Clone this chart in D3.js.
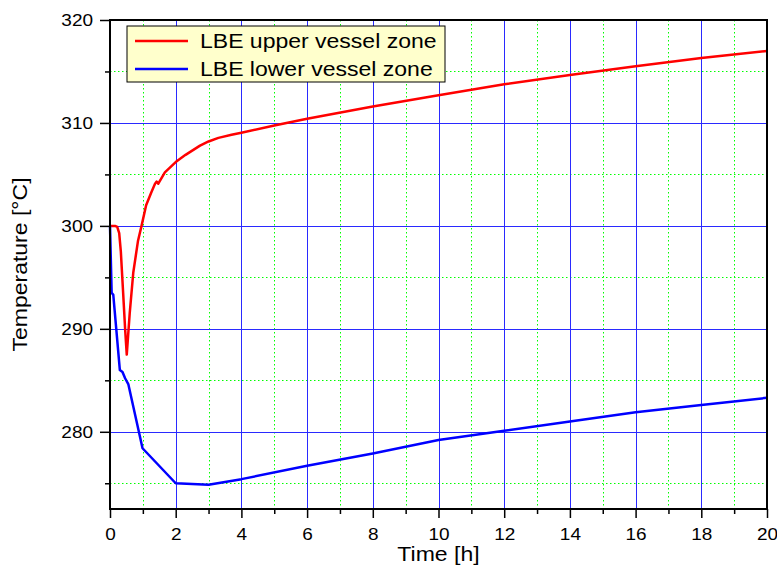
<!DOCTYPE html>
<html>
<head>
<meta charset="utf-8">
<script src="https://cdn.jsdelivr.net/npm/d3@7"></script>
<style>
    body { margin: 0; background: #fff; }
    text { font-family: "Liberation Sans", Arial, Helvetica, sans-serif; fill: #000; }
</style>
</head>
<body>
<div id="chart"></div>
<script>
// Data (time in hours, temperature in degrees C)
const upperTime = [0, 0.15, 0.22, 0.28, 0.33, 0.4, 0.46, 0.51, 0.6, 0.71, 0.85, 0.96, 1.1, 1.25, 1.37, 1.42, 1.47, 1.67, 2.0, 2.3, 2.74, 3.0, 3.3, 3.7, 4, 5, 6, 8, 10, 12, 14, 16, 18, 20];
const upperTemp = [300, 300, 299.9, 299.3, 297.5, 293.5, 290, 287.5, 291.5, 295.5, 298.5, 300, 302, 303.2, 304.1, 304.3, 304.1, 305.2, 306.2, 306.9, 307.8, 308.2, 308.55, 308.85, 309.05, 309.75, 310.4, 311.6, 312.7, 313.75, 314.65, 315.5, 316.3, 317.0];

const lowerTime = [0, 0.05, 0.1, 0.3, 0.38, 0.46, 0.56, 0.99, 2.0, 3.0, 4.0, 6.0, 8.0, 10.0, 12.0, 14.0, 16.0, 18.0, 20.0];
const lowerTemp = [300, 293.5, 293.3, 286.0, 285.8, 285.2, 284.6, 278.4, 275.0, 274.85, 275.4, 276.7, 277.9, 279.2, 280.1, 281.0, 281.9, 282.6, 283.3];

const seriesNames = ["LBE upper vessel zone", "LBE lower vessel zone"];
const seriesColors = ["#ff0000", "#0000ff"];

const xMajorTicks = [0, 2, 4, 6, 8, 10, 12, 14, 16, 18, 20];
const xMinorTicks = [1, 3, 5, 7, 9, 11, 13, 15, 17, 19];
const yMajorTicks = [280, 290, 300, 310, 320];
const yMinorTicks = [275, 285, 295, 305, 315];

const width = 777;
const height = 569;
const margin = { top: 20, right: 10, bottom: 60, left: 110 };
const stretch = 1.15; // the reference's text is a little wider than Arial

const svg = d3.select("#chart")
    .append("svg")
    .attr("width", width)
    .attr("height", height);

// Scales
const x = d3.scaleLinear()
    .domain([0, 20])
    .range([margin.left, width - margin.right]);

const y = d3.scaleLinear()
    .domain([272.5, 320])
    .range([height - margin.bottom, margin.top]);

// Grid: minor green dotted, major blue solid
const grid = svg.append("g");

grid.selectAll(".vminor")
    .data(xMinorTicks)
    .enter()
    .append("line")
    .attr("x1", d => Math.round(x(d)) + 0.5)
    .attr("x2", d => Math.round(x(d)) + 0.5)
    .attr("y1", y.range()[1])
    .attr("y2", y.range()[0])
    .attr("stroke", "#00ff00")
    .attr("stroke-dasharray", "1.5,2.5");

grid.selectAll(".hminor")
    .data(yMinorTicks)
    .enter()
    .append("line")
    .attr("x1", x.range()[0])
    .attr("x2", x.range()[1])
    .attr("y1", d => Math.round(y(d)) + 0.5)
    .attr("y2", d => Math.round(y(d)) + 0.5)
    .attr("stroke", "#00ff00")
    .attr("stroke-dasharray", "1.5,2.5");

grid.selectAll(".vmajor")
    .data(xMajorTicks.slice(1, -1))
    .enter()
    .append("line")
    .attr("x1", d => Math.round(x(d)) + 0.5)
    .attr("x2", d => Math.round(x(d)) + 0.5)
    .attr("y1", y.range()[1])
    .attr("y2", y.range()[0])
    .attr("stroke", "#2a2aff");

grid.selectAll(".hmajor")
    .data(yMajorTicks.slice(0, -1))
    .enter()
    .append("line")
    .attr("x1", x.range()[0])
    .attr("x2", x.range()[1])
    .attr("y1", d => Math.round(y(d)) + 0.5)
    .attr("y2", d => Math.round(y(d)) + 0.5)
    .attr("stroke", "#2a2aff");

// Curves
const line = d3.line()
    .x(d => x(d[0]))
    .y(d => y(d[1]));

const series = [
    d3.zip(upperTime, upperTemp),
    d3.zip(lowerTime, lowerTemp)
];

svg.selectAll(".curve")
    .data(series)
    .enter()
    .append("path")
    .attr("d", line)
    .attr("fill", "none")
    .attr("stroke", (d, i) => seriesColors[i])
    .attr("stroke-width", 2.5)
    .attr("stroke-linejoin", "round");

// Axes (major with labels, minor without)
svg.append("g")
    .attr("transform", `translate(0,${y.range()[0]})`)
    .call(d3.axisBottom(x).tickValues(xMajorTicks).tickSize(9).tickPadding(10).tickFormat(d3.format("d")));

svg.append("g")
    .attr("transform", `translate(0,${y.range()[0]})`)
    .call(d3.axisBottom(x).tickValues(xMinorTicks).tickSize(5).tickFormat(""));

svg.append("g")
    .attr("transform", `translate(${x.range()[0]},0)`)
    .call(d3.axisLeft(y).tickValues(yMajorTicks).tickSize(10).tickPadding(7).tickFormat(d3.format("d")));

svg.append("g")
    .attr("transform", `translate(${x.range()[0]},0)`)
    .call(d3.axisLeft(y).tickValues(yMinorTicks).tickSize(5).tickFormat(""));

svg.selectAll(".domain").remove();
svg.selectAll(".tick line").attr("stroke", "#000").attr("stroke-width", 1.5);
svg.selectAll(".tick text").attr("font-size", 16.5).attr("font-family", null);

// Frame
svg.append("rect")
    .attr("x", x.range()[0])
    .attr("y", y.range()[1])
    .attr("width", x.range()[1] - x.range()[0])
    .attr("height", y.range()[0] - y.range()[1])
    .attr("fill", "none")
    .attr("stroke", "#000")
    .attr("stroke-width", 2);

// Axis titles
svg.append("text")
    .attr("x", (x.range()[0] + x.range()[1]) / 2)
    .attr("y", 561)
    .attr("text-anchor", "middle")
    .attr("font-size", 20)
    .text("Time [h]");

svg.append("text")
    .attr("transform", `translate(27,${(y.range()[0] + y.range()[1]) / 2}) rotate(-90)`)
    .attr("text-anchor", "middle")
    .attr("font-size", 20)
    .text("Temperature [\u00B0C]");

// Legend
const legend = svg.append("g")
    .attr("transform", "translate(127,26)");

legend.append("rect")
    .attr("width", 318)
    .attr("height", 56)
    .attr("fill", "#ffffcc")
    .attr("stroke", "#000")
    .attr("stroke-width", 1);

const item = legend.selectAll(".item")
    .data(seriesNames)
    .enter()
    .append("g")
    .attr("transform", (d, i) => `translate(0,${15 + i * 28})`);

item.append("line")
    .attr("x1", 8)
    .attr("x2", 61)
    .attr("stroke", (d, i) => seriesColors[i])
    .attr("stroke-width", 2.5);

item.append("text")
    .attr("x", 73)
    .attr("dy", "0.36em")
    .attr("font-size", 20)
    .text(d => d);

// Widen all text a little to match the reference typeface
svg.selectAll("text").each(function() {
    const len = this.getComputedTextLength();
    if (len > 0) {
        d3.select(this)
            .attr("textLength", len * stretch)
            .attr("lengthAdjust", "spacingAndGlyphs");
    }
});
</script>
</body>
</html>
